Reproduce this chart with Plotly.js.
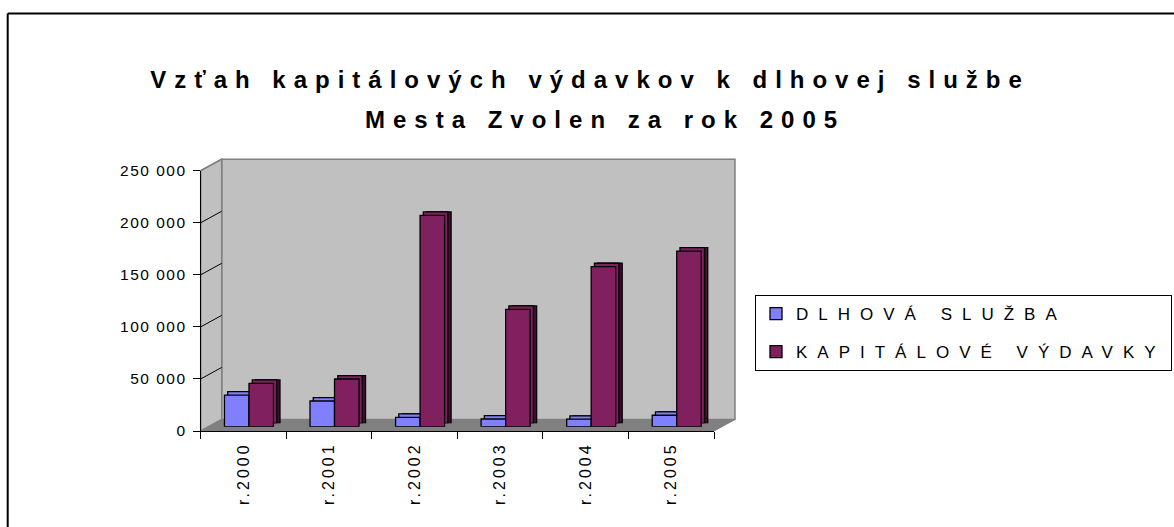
<!DOCTYPE html>
<html><head><meta charset="utf-8">
<script src="https://cdn.plot.ly/plotly-3.0.1.min.js"></script>
<style>
body{margin:0;background:#fff}
#chart{width:1174px;height:527px}
text.gtitle, .annotation-text{letter-spacing:8px}
.y2tick text{letter-spacing:1.5px}
.x2tick text{letter-spacing:3px}
.legendtext{letter-spacing:10px}
</style></head><body><div id="chart"></div>
<script>
// ---- data ----
const years = ['r.2000','r.2001','r.2002','r.2003','r.2004','r.2005'];
const dlhovaSluzba = [30400, 24700, 9000, 7400, 7200, 11000];
const kapitaloveVydavky = [41700, 45800, 203000, 112700, 153700, 168700];
const seriesNames = ['DLHOVÁ SLUŽBA', 'KAPITÁLOVÉ VÝDAVKY'];
const yTickValues = [0, 50000, 100000, 150000, 200000, 250000];
const yTickLabels = ['0', '50 000', '100 000', '150 000', '200 000', '250 000'];
const titleLines = ['Vzťah kapitálových výdavkov k dlhovej službe', 'Mesta Zvolen za rok 2005'];

// ---- geometry (pixels) ----
const W = 1174, H = 527;
const px = x => x / W, py = y => 1 - y / H;
const FX0 = 200.7, FX1 = 714, FY0 = 431, FYT = 170.7;   // front axes
const DX = 21, DY = 11.5;                                // 3-D depth
const BX0 = FX0 + 5.5, BX1 = FX1 + 5.5, BY0 = 426.7, BYT = BY0 - (FY0 - FYT); // bar plane
const SX = 6.5, SY = 3.4;                                // bar depth
const YMAX = 250000;
const yFront = v => FY0 - (FY0 - FYT) * v / YMAX;

const FONT = 'Liberation Sans, Arial, sans-serif';
const frontCols = ['#8080ff', '#80205f'];
const sideCols = ['#40407f', '#401030'];
const seriesVals = [dlhovaSluzba, kapitaloveVydavky];

const traces = [];
// invisible carrier for the labelled front axes
traces.push({type: 'scatter', x: years, y: kapitaloveVydavky, xaxis: 'x2', yaxis: 'y2',
  mode: 'markers', marker: {opacity: 0}, showlegend: false, hoverinfo: 'skip'});
const layers = [
  {ax: '3', cols: sideCols, legend: false},
  {ax: '4', cols: frontCols, legend: false},
  {ax: '5', cols: frontCols, legend: true}
];
layers.forEach(L => {
  seriesVals.forEach((vals, i) => {
    traces.push({
      type: 'bar', x: years, y: vals, name: seriesNames[i],
      xaxis: 'x' + L.ax, yaxis: 'y' + L.ax,
      marker: {color: L.cols[i], line: {color: '#000', width: 1.3}},
      showlegend: L.legend, legendgroup: 'g' + i,
      hovertemplate: '%{x}: %{y}<extra>' + seriesNames[i] + '</extra>'
    });
  });
});

const hidden = (dom, extra) => Object.assign({domain: dom, visible: false, fixedrange: true}, extra);

const shapes = [];
shapes.push({type: 'rect', xref: 'paper', yref: 'paper', layer: 'below',
  x0: px(FX0 + DX), x1: px(FX1 + DX), y0: py(FY0 - DY), y1: py(FYT - DY),
  fillcolor: '#c0c0c0', line: {color: '#808080', width: 1.5}});
const pth = pts => 'M' + pts.map(p => px(p[0]) + ',' + py(p[1])).join(' L') + ' Z';
shapes.push({type: 'path', xref: 'paper', yref: 'paper', layer: 'below',
  path: pth([[FX0, FY0], [FX0 + DX, FY0 - DY], [FX0 + DX, FYT - DY], [FX0, FYT]]),
  fillcolor: '#c0c0c0', line: {color: '#808080', width: 1.5}});
shapes.push({type: 'path', xref: 'paper', yref: 'paper', layer: 'below',
  path: pth([[FX0, FY0], [FX1, FY0], [FX1 + DX, FY0 - DY], [FX0 + DX, FY0 - DY]]),
  fillcolor: '#808080', line: {color: '#808080', width: 1}});
yTickValues.slice(1).forEach(v => {
  const y = yFront(v);
  shapes.push({type: 'line', xref: 'paper', yref: 'paper', layer: 'below',
    x0: px(FX0), y0: py(y), x1: px(FX0 + DX), y1: py(y - DY),
    line: {color: v === YMAX ? '#808080' : '#000', width: v === YMAX ? 1.5 : 1}});
});
shapes.push({type: 'line', xref: 'paper', yref: 'paper', x0: px(7.7), x1: 1, y0: py(13.5), y1: py(13.5), line: {color: '#000', width: 2}});
shapes.push({type: 'line', xref: 'paper', yref: 'paper', x0: px(7.7), x1: px(7.7), y0: py(13.5), y1: 0, line: {color: '#000', width: 2}});

const layout = {
  width: W, height: H,
  margin: {l: 0, r: 0, t: 0, b: 0},
  paper_bgcolor: '#fff', plot_bgcolor: 'rgba(0,0,0,0)',
  font: {family: FONT, color: '#000'},
  title: {
    text: titleLines[0],
    font: {family: FONT, size: 24, weight: 'bold', color: '#000'},
    x: px(590), xanchor: 'center', xref: 'container',
    y: py(71), yanchor: 'top', yref: 'container'
  },
  annotations: [{
    text: titleLines[1], xref: 'paper', yref: 'paper', x: px(605), y: py(120),
    xanchor: 'center', yanchor: 'middle', showarrow: false,
    font: {family: FONT, size: 24, weight: 'bold', color: '#000'}
  }],
  barmode: 'group', bargap: 0.427, bargroupgap: 0,
  showlegend: true,
  legend: {
    x: px(755), xanchor: 'left', y: py(333), yanchor: 'middle',
    bgcolor: '#fff', bordercolor: '#000', borderwidth: 1,
    font: {family: FONT, size: 17, color: '#000'},
    tracegroupgap: 13, itemwidth: 30
  },
  xaxis: hidden([px(FX0 + DX), px(FX1 + DX)], {range: [-0.5, 5.5], anchor: 'y'}),
  yaxis: {domain: [py(FY0 - DY), py(FYT - DY)], range: [0, YMAX], anchor: 'x',
    tickmode: 'array', tickvals: yTickValues.slice(1, 5), showgrid: true, gridcolor: '#000', gridwidth: 1,
    showticklabels: false, ticks: '', zeroline: false, showline: false, fixedrange: true},
  xaxis2: {domain: [px(FX0), px(FX1)], type: 'category', range: [-0.5, 5.5], anchor: 'y2',
    tickson: 'boundaries', ticks: 'outside', ticklen: 7, tickcolor: '#000', tickwidth: 1,
    tickangle: -90, tickfont: {family: FONT, size: 16, color: '#000'}, ticklabelstandoff: 4,
    showline: true, linecolor: '#000', linewidth: 1, showgrid: false, zeroline: false, fixedrange: true},
  yaxis2: {domain: [py(FY0), py(FYT)], range: [0, YMAX], anchor: 'x2',
    tickmode: 'array', tickvals: yTickValues, ticktext: yTickLabels,
    ticks: 'outside', ticklen: 7, tickcolor: '#000', tickwidth: 1,
    tickfont: {family: FONT, size: 15.5, color: '#000'}, ticklabelstandoff: 3,
    showline: true, linecolor: '#000', linewidth: 1, showgrid: false, zeroline: false, fixedrange: true},
  xaxis3: hidden([px(BX0 + SX), px(BX1 + SX)], {type: 'category', range: [-0.5, 5.5], anchor: 'y3'}),
  yaxis3: hidden([py(BY0 - SY), py(BYT - SY)], {range: [0, YMAX], anchor: 'x3'}),
  xaxis4: hidden([px(BX0 + SX / 2), px(BX1 + SX / 2)], {type: 'category', range: [-0.5, 5.5], anchor: 'y4'}),
  yaxis4: hidden([py(BY0 - SY), py(BYT - SY)], {range: [0, YMAX], anchor: 'x4'}),
  xaxis5: hidden([px(BX0), px(BX1)], {type: 'category', range: [-0.5, 5.5], anchor: 'y5'}),
  yaxis5: hidden([py(BY0), py(BYT)], {range: [0, YMAX], anchor: 'x5'}),
  shapes: shapes
};

Plotly.newPlot('chart', traces, layout, {displayModeBar: false});
</script></body></html>
